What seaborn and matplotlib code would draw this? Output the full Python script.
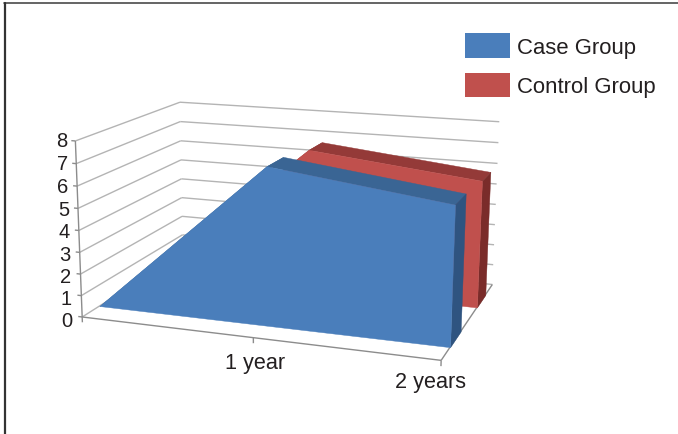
import numpy as np
import seaborn as sns
import matplotlib
matplotlib.use("Agg")
import matplotlib.pyplot as plt
from matplotlib.lines import Line2D
from matplotlib.patches import Patch
from matplotlib.ticker import NullLocator
from mpl_toolkits.mplot3d.art3d import Poly3DCollection

# ---- data ----
series_names = ["Case Group", "Control Group"]
category_labels = ["", "1 year", "2 years"]
category_pos = [0.0, 0.5, 1.0]
case_values = [0.0, 7.15, 6.15]
control_values = [0.0, 6.8, 5.95]
z_ticks = [0, 1, 2, 3, 4, 5, 6, 7, 8]

sns.set_theme(style="white")
plt.rcParams["font.family"] = ["Liberation Sans", "DejaVu Sans"]
INK = "#231f20"
W, H = 678, 435
fig = plt.figure(figsize=(W/100, H/100), dpi=100)
ax = fig.add_subplot(projection="3d", computed_zorder=False)
ax.set_xlim(0, 1); ax.set_ylim(0, 1); ax.set_zlim(0, 8)
ax.view_init(elev=14.258, azim=-71.011, roll=-0.22)
ax.set_proj_type("persp", focal_length=0.5346)
ax.set_box_aspect((1, 0.6766, 0.4888))
ax.set_axis_off()
for axis in (ax.xaxis, ax.yaxis, ax.zaxis):
    axis.set_major_locator(NullLocator())
    axis.set_minor_locator(NullLocator())
    axis.set_visible(False)

# place the square axes so the projected box lands on the target pixels
S, TX, TY = 2439.71, 295.99, 217.89
ax.set_position([0, 0, 0.5, 0.5*W/H])
ax.apply_aspect()
p0 = ax.transData.transform((0, 0)); p1 = ax.transData.transform((1, 1))
sc = S/(p1[0]-p0[0])
side = ax.get_position().width*W*sc
left = TX - p0[0]*sc
bottom = (H-TY) - p0[1]*sc
ax.set_position([left/W, bottom/H, side/W, side/H])

GRID = "#b4b4b4"
AXIS = "#8c8c8c"
def seg(a, b, color=GRID, lw=1.0, z=1):
    l, = ax.plot([a[0], b[0]], [a[1], b[1]], [a[2], b[2]], color=color, lw=lw, zorder=z,
                 solid_capstyle="butt")
    l.set_clip_on(False)

for t in z_ticks[1:]:
    seg((0, 0, t), (0, 1, t))
    seg((0, 1, t), (1, 1, t))
for t in z_ticks:
    seg((-0.012, 0, t), (0, 0, t), AXIS)
seg((0, 1, 0), (0, 0, 0))
seg((0, 1, 0), (1, 1, 0))
seg((0, 0, 0), (0, 0, 8), AXIS)
seg((0, 0, 0), (1, 0, 0), AXIS)
seg((1, 0, 0), (1, 1, 0), AXIS)
for c in category_pos:
    seg((c, 0, 0), (c, 0, -0.25), AXIS)

palette = {
    "Case Group": ("#4a7ebb", "#3a6594", "#2f5480"),
    "Control Group": ("#c0504d", "#943a38", "#7a2c2a"),
}
def area(vals, d0, d1, cols, z):
    front, top, sidec = cols
    def add(poly, col, zz):
        pc = Poly3DCollection([poly], facecolors=col, edgecolors=col, linewidths=0.3, zorder=zz)
        pc.set_clip_on(False)
        ax.add_collection3d(pc)
    for i in range(len(vals)-1):
        add([(category_pos[i], d0, vals[i]), (category_pos[i+1], d0, vals[i+1]),
             (category_pos[i+1], d1, vals[i+1]), (category_pos[i], d1, vals[i])], top, z)
    end = category_pos[-1]
    add([(end, d0, 0), (end, d0, vals[-1]), (end, d1, vals[-1]), (end, d1, 0)], sidec, z+1)
    add([(c, d0, v) for c, v in zip(category_pos, vals)] + [(end, d0, 0), (0, d0, 0)], front, z+2)

area(control_values, 0.66, 0.84, palette["Control Group"], 10)
area(case_values, 0.15, 0.34, palette["Case Group"], 20)

for t in z_ticks:
    ax.text(-0.024 - 0.006*(8-t)/8, 0, t-0.025*(8-t)-0.0 if t else -0.24, str(t), ha="right", va="center",
            fontsize=14.5, color=INK, zorder=40)
ax.text(0.505, 0, -1.1, category_labels[1], ha="center", va="center", fontsize=15.6, color=INK, zorder=40)
ax.text(0.99, -0.1, -0.55, category_labels[2], ha="center", va="center", fontsize=15.6, color=INK, zorder=40)

handles = [Patch(facecolor=palette[n][0], edgecolor="none", label=n) for n in series_names]
fig.legend(handles=handles, loc="upper left", bbox_to_anchor=(465/W, 1-34/H), frameon=False,
           fontsize=15.9, labelcolor=INK, borderpad=0, borderaxespad=0, handlelength=2.05,
           handleheight=1.36, labelspacing=0.66, handletextpad=0.3)

fig.add_artist(Line2D([4/W, 1], [1-4/H, 1-4/H], color="#4a4a4a", lw=1.2))
fig.add_artist(Line2D([5/W, 5/W], [1-3.5/H, 0], color="#333333", lw=1.6))
fig.savefig("out.png", dpi=100)
